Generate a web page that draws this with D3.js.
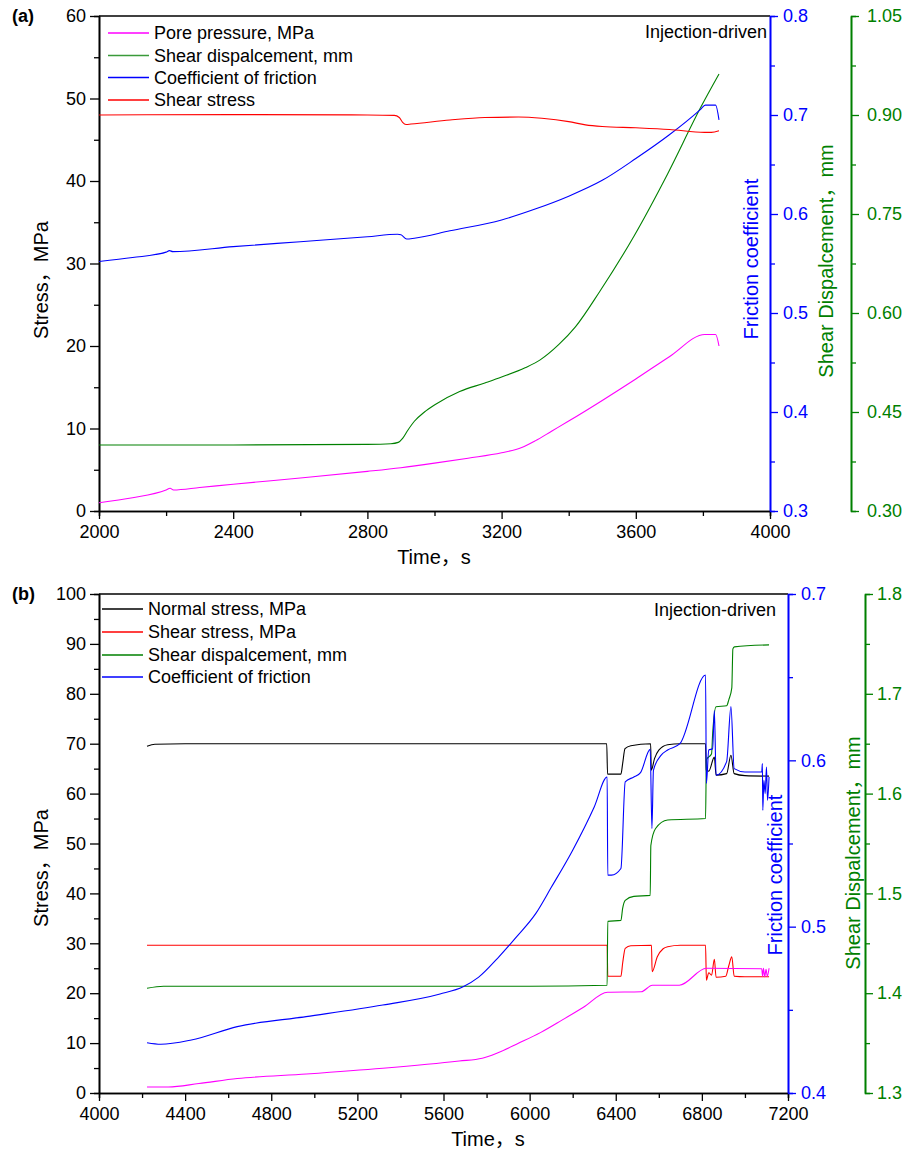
<!DOCTYPE html>
<html lang="en">
<head>
<meta charset="UTF-8" />
<title>Injection-driven tests</title>
<style>
  body { margin: 0; background: #fff; }
  svg { display: block; font-family: "Liberation Sans", Arial, "Noto Sans CJK SC", sans-serif; }
  .series { fill: none; stroke-width: 1.1; stroke-linejoin: round; }
</style>
</head>
<body>
<svg width="904" height="1162"></svg>
<script src="https://cdnjs.cloudflare.com/ajax/libs/d3/7.8.5/d3.min.js"></script>
<script>
// ---- panel (a) data: [time s, value] ----
const aTimeTicks = [2000, 2400, 2800, 3200, 3600, 4000];
const aStressTicks = [0, 10, 20, 30, 40, 50, 60];
const aFricTicks = [0.3, 0.4, 0.5, 0.6, 0.7, 0.8];
const aDispTicks = [0.30, 0.45, 0.60, 0.75, 0.90, 1.05];

const aPore = [[2000,1.0],[2100,1.6],[2200,2.55],[2212,2.75],[2222,2.55],[2300,2.85],[2400,3.25],
  [2600,4.0],[2800,4.8],[2900,5.25],[3000,5.8],[3100,6.4],[3200,7.05],[3260,7.7],[3300,8.5],
  [3350,9.7],[3400,10.9],[3500,13.4],[3600,16.0],[3700,18.7],[3806,21.4],[3838,21.4],[3848,20.0]];
const aDisp = [[2000,0.400],[2400,0.400],[2800,0.401],[2870,0.402],[2892,0.404],[2905,0.410],
  [2920,0.422],[2940,0.436],[2970,0.450],[3001,0.461],[3075,0.481],[3150,0.494],[3200,0.503],
  [3270,0.517],[3315,0.529],[3370,0.552],[3420,0.579],[3493,0.633],[3594,0.716],[3694,0.810],
  [3794,0.912],[3848,0.962]];
const aFric = [[2000,0.552],[2100,0.556],[2200,0.5615],[2210,0.563],[2220,0.562],[2400,0.567],
  [2600,0.572],[2800,0.577],[2890,0.5795],[2900,0.579],[2917,0.5747],[2940,0.5755],[3046,0.583],
  [3200,0.594],[3300,0.605],[3400,0.618],[3500,0.634],[3600,0.656],[3700,0.680],[3794,0.706],
  [3807,0.710],[3838,0.710],[3848,0.695]];
const aShear = [[2000,48.0],[2400,48.05],[2800,48.0],[2880,47.95],[2895,47.7],[2905,47.1],
  [2915,46.85],[2930,46.9],[3046,47.4],[3150,47.7],[3250,47.75],[3320,47.6],[3400,47.2],
  [3450,46.8],[3500,46.6],[3600,46.45],[3700,46.25],[3805,45.9],[3825,45.9],[3848,46.1]];

// ---- panel (b) data ----
const bTimeTicks = [4000, 4400, 4800, 5200, 5600, 6000, 6400, 6800, 7200];
const bStressTicks = [0, 10, 20, 30, 40, 50, 60, 70, 80, 90, 100];
const bFricTicks = [0.4, 0.5, 0.6, 0.7];
const bDispTicks = [1.3, 1.4, 1.5, 1.6, 1.7, 1.8];

const bNormal = [[4223,69.5],[4260,69.9],[4400,70.0],[5000,70.0],[5800,70.0],[6358,70.0],[6362,63.9],
  [6424,63.9],[6432,66.0],[6443,69.0],[6470,69.6],[6562,70.0],[6565,64.7],[6580,67.0],[6600,68.7],
  [6641,69.8],[6700,70.0],[6817,70.0],[6820,64.7],[6832,64.5],[6858,67.3],[6866,63.7],[6915,64.0],
  [6935,67.7],[6950,64.0],[7000,63.6],[7112,63.5]];
const bShear = [[4223,29.6],[5000,29.6],[6000,29.6],[6360,29.6],[6363,23.4],[6424,23.4],[6432,26.0],
  [6444,29.0],[6470,29.5],[6566,29.6],[6569,24.3],[6593,27.3],[6620,28.9],[6641,29.3],[6700,29.6],
  [6817,29.6],[6821,22.6],[6832,24.1],[6845,23.6],[6858,26.8],[6866,23.2],[6911,23.4],[6925,25.5],
  [6939,27.3],[6950,23.4],[7000,23.3],[7112,23.3]];
const bPore = [[4223,1.2],[4322,1.2],[4464,1.9],[4642,2.9],[4963,3.8],[5318,4.95],[5673,6.4],
  [5780,6.95],[5850,8.0],[5950,10.0],[6050,12.1],[6150,14.6],[6250,17.2],[6362,20.2],[6518,20.3],
  [6570,21.6],[6695,21.6],[6821,25.0],[7078,24.9],[7082,23.4],[7086,25.0],[7092,23.3],[7098,24.8],
  [7104,23.4],[7112,25.0]];
const bDisp = [[4223,1.405],[4300,1.407],[5000,1.407],[6000,1.407],[6360,1.408],[6363,1.472],
  [6424,1.473],[6432,1.485],[6444,1.493],[6484,1.497],[6560,1.498],[6563,1.548],[6585,1.565],
  [6641,1.5735],[6817,1.575],[6821,1.634],[6845,1.640],[6850,1.66],[6866,1.687],[6915,1.688],
  [6925,1.694],[6939,1.706],[6944,1.745],[6951,1.747],[7112,1.749]];
const bFric = [[4223,0.4302],[4287,0.4293],[4429,0.4319],[4642,0.4399],[4962,0.4459],[5318,0.4529],
  [5584,0.4595],[5691,0.4639],[5762,0.4695],[5851,0.481],[5940,0.494],[6029,0.508],[6100,0.5235],
  [6200,0.546],[6300,0.572],[6360,0.590],[6363,0.531],[6380,0.531],[6424,0.535],[6444,0.587],
  [6484,0.590],[6515,0.5926],[6560,0.6066],[6568,0.559],[6575,0.594],[6610,0.603],[6641,0.6062],
  [6698,0.610],[6817,0.6513],[6821,0.5862],[6832,0.6062],[6850,0.607],[6858,0.630],[6866,0.591],
  [6915,0.5992],[6935,0.6323],[6950,0.595],[7000,0.593],[7078,0.593],[7081,0.598],[7083,0.570],
  [7088,0.588],[7094,0.580],[7100,0.596],[7105,0.576],[7112,0.590]];

const BLUE = "#0000ff", GREEN = "#008000", RED = "#ff0000", PINK = "#ff00ff";

const svg = d3.select("svg");

function axisStyle(sel, color) {
  sel.select(".domain").attr("stroke", color).attr("stroke-width", 1.6);
  sel.selectAll(".tick line").attr("stroke", color).attr("stroke-width", 1.3);
  sel.selectAll(".tick text").attr("fill", color).attr("font-size", 18);
}

function drawPanel(p) {
  const g = svg.append("g");
  const x = d3.scaleLinear().domain(p.xDomain).range([p.left, p.right]);
  const yS = d3.scaleLinear().domain(p.sDomain).range([p.bottom, p.top]);
  const yF = d3.scaleLinear().domain(p.fDomain).range([p.bottom, p.top]);
  const yD = d3.scaleLinear().domain(p.dDomain).range([p.bottom, p.top]);

  // top frame line
  g.append("line").attr("x1", p.left).attr("x2", p.right)
    .attr("y1", p.top).attr("y2", p.top).attr("stroke", "#000").attr("stroke-width", 1.6);

  // minor ticks first
  const step = (t) => t[1] - t[0];
  const mid = (t) => t.slice(0, -1).map((v) => v + step(t) / 2);
  g.append("g").attr("transform", `translate(0,${p.bottom})`)
    .call(d3.axisBottom(x).tickValues(mid(p.xTicks)).tickSize(5).tickFormat(""))
    .call(axisStyle, "#000");
  g.append("g").attr("transform", `translate(${p.left},0)`)
    .call(d3.axisLeft(yS).tickValues(mid(p.sTicks)).tickSize(5).tickFormat(""))
    .call(axisStyle, "#000");
  g.append("g").attr("transform", `translate(${p.right},0)`)
    .call(d3.axisRight(yF).tickValues(mid(p.fTicks)).tickSize(5).tickFormat(""))
    .call(axisStyle, BLUE);
  g.append("g").attr("transform", `translate(${p.greenX},0)`)
    .call(d3.axisRight(yD).tickValues(mid(p.dTicks)).tickSize(5).tickFormat(""))
    .call(axisStyle, GREEN);

  // major axes
  g.append("g").attr("transform", `translate(0,${p.bottom})`)
    .call(d3.axisBottom(x).tickValues(p.xTicks).tickSize(8).tickSizeOuter(0).tickPadding(6).tickFormat(d3.format("d")))
    .call(axisStyle, "#000");
  g.append("g").attr("transform", `translate(${p.left},0)`)
    .call(d3.axisLeft(yS).tickValues(p.sTicks).tickSize(9).tickSizeOuter(0).tickPadding(4).tickFormat(d3.format("d")))
    .call(axisStyle, "#000");
  g.append("g").attr("transform", `translate(${p.right},0)`)
    .call(d3.axisRight(yF).tickValues(p.fTicks).tickSize(8).tickSizeOuter(0).tickPadding(5).tickFormat(d3.format(".1f")))
    .call(axisStyle, BLUE);
  g.append("g").attr("transform", `translate(${p.greenX},0)`)
    .call(d3.axisRight(yD).tickValues(p.dTicks).tickSize(8).tickSizeOuter(0).tickPadding(p.dPad).tickFormat(d3.format(p.dFormat)))
    .call(axisStyle, GREEN);

  // series
  const yOf = { s: yS, f: yF, d: yD };
  p.series.forEach((s) => {
    const line = d3.line().x((d) => x(d[0])).y((d) => yOf[s.axis](d[1])).curve(d3.curveMonotoneX);
    g.append("path").datum(s.data).attr("class", "series").attr("stroke", s.color).attr("d", line);
  });

  // legend
  p.legend.forEach((l, i) => {
    const y = p.legendY[i];
    g.append("line").attr("x1", p.legendX).attr("x2", p.legendX + 41)
      .attr("y1", y).attr("y2", y).attr("stroke", l.color).attr("stroke-width", 1.3);
    g.append("text").attr("x", p.legendX + 46).attr("y", y).attr("dy", "0.35em")
      .attr("font-size", 18).text(l.label);
  });

  // texts
  g.append("text").attr("x", 12).attr("y", p.top).attr("dy", "0.35em")
    .attr("font-size", 18).attr("font-weight", "bold").text(p.tag);
  g.append("text").attr("x", p.injX).attr("y", p.top + 16).attr("dy", "0.35em")
    .attr("text-anchor", "end").attr("font-size", 18).text("Injection-driven");
  g.append("text").attr("x", p.timeX).attr("y", p.bottom + 46).attr("dy", "0.35em")
    .attr("text-anchor", "middle").attr("font-size", 20).text("Time，s");
  const vTitle = (cx, cy, txt, color) =>
    g.append("text").attr("transform", `translate(${cx},${cy}) rotate(-90)`).attr("dy", "0.35em")
      .attr("text-anchor", "middle").attr("font-size", 20).attr("fill", color).text(txt);
  vTitle(41, p.stressY, "Stress，MPa", "#000");
  vTitle(p.fricTitle[0], p.fricTitle[1], "Friction coefficient", BLUE);
  vTitle(p.dispTitle[0], p.dispTitle[1], "Shear Dispalcement，mm", GREEN);
}

drawPanel({
  tag: "(a)", left: 99, right: 770, top: 16, bottom: 511, greenX: 851,
  xDomain: [2000, 4000], sDomain: [0, 60], fDomain: [0.3, 0.8], dDomain: [0.30, 1.05],
  xTicks: aTimeTicks, sTicks: aStressTicks, fTicks: aFricTicks, dTicks: aDispTicks,
  dFormat: ".2f", dPad: 8,
  series: [
    { data: aPore, axis: "s", color: PINK },
    { data: aDisp, axis: "d", color: GREEN },
    { data: aFric, axis: "f", color: BLUE },
    { data: aShear, axis: "s", color: RED }
  ],
  legend: [
    { label: "Pore pressure, MPa", color: PINK },
    { label: "Shear dispalcement, mm", color: "#3a9a3a" },
    { label: "Coefficient of friction", color: BLUE },
    { label: "Shear stress", color: RED }
  ],
  legendX: 108, legendY: [33, 55.5, 77.5, 100],
  injX: 767, timeX: 434, stressY: 280, fricTitle: [751, 259], dispTitle: [826, 261]
});

drawPanel({
  tag: "(b)", left: 99, right: 788, top: 594, bottom: 1093, greenX: 865,
  xDomain: [4000, 7200], sDomain: [0, 100], fDomain: [0.4, 0.7], dDomain: [1.3, 1.8],
  xTicks: bTimeTicks, sTicks: bStressTicks, fTicks: bFricTicks, dTicks: bDispTicks,
  dFormat: ".1f", dPad: 4,
  series: [
    { data: bNormal, axis: "s", color: "#000" },
    { data: bShear, axis: "s", color: RED },
    { data: bDisp, axis: "d", color: GREEN },
    { data: bPore, axis: "s", color: PINK },
    { data: bFric, axis: "f", color: BLUE }
  ],
  legend: [
    { label: "Normal stress, MPa", color: "#000" },
    { label: "Shear stress, MPa", color: RED },
    { label: "Shear dispalcement, mm", color: GREEN },
    { label: "Coefficient of friction", color: BLUE }
  ],
  legendX: 102, legendY: [609, 632, 655, 677],
  injX: 776, timeX: 488, stressY: 868, fricTitle: [775, 875], dispTitle: [853, 853]
});
</script>
</body>
</html>
